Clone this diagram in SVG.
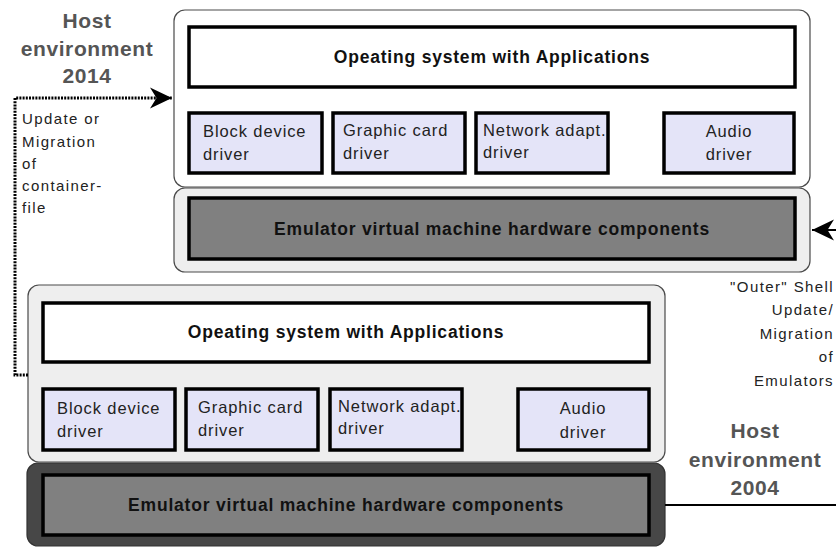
<svg xmlns="http://www.w3.org/2000/svg" width="836" height="547" viewBox="0 0 836 547">
  <style>
    .shell-app { fill: #ffffff; stroke: #4a4a4a; stroke-width: 1.2; }
    .shell-app-old { fill: #eeeeee; stroke: #4a4a4a; stroke-width: 1.2; }
    .shell-emu { fill: #eeeeee; stroke: #4a4a4a; stroke-width: 1.2; }
    .shell-emu-old { fill: #474747; stroke: #333333; stroke-width: 1.2; }
    .os { fill: #ffffff; stroke: #000000; stroke-width: 3.5; }
    .drv { fill: #e4e4f8; stroke: #000000; stroke-width: 3.5; }
    .hw { fill: #808080; stroke: #000000; stroke-width: 3.5; }
    .title { font-family: "Liberation Sans", Arial, sans-serif; font-weight: bold; font-size: 17.5px; letter-spacing: 0.8px; fill: #111111; text-anchor: middle; }
    .lbl { font-family: "Liberation Sans", Arial, sans-serif; font-size: 16.5px; letter-spacing: 0.9px; fill: #222222; }
    .mid { text-anchor: middle; }
    .host { font-family: "Liberation Sans", Arial, sans-serif; font-weight: bold; font-size: 21px; letter-spacing: 0.6px; fill: #555555; text-anchor: middle; }
    .note { font-family: "Liberation Sans", Arial, sans-serif; font-size: 15px; letter-spacing: 1.4px; fill: #222222; }
    .link { fill: none; stroke: #000000; }
  </style>
  <defs>
    <marker id="barb" markerUnits="userSpaceOnUse" markerWidth="24" markerHeight="24" refX="22" refY="11" orient="auto" overflow="visible">
      <path d="M22,11 L0,0.5 L6.5,11 L0,21.5 Z" fill="#000000"/>
    </marker>
  </defs>

  <!-- host environment 2014: guest system -->
  <g id="guest-2014">
    <rect class="shell-app" x="174" y="10" width="636" height="177" rx="11"/>
    <rect class="os" x="189" y="27" width="606" height="60"/>
    <text class="title" x="492" y="63">Opeating system with Applications</text>
    <rect class="drv" x="189" y="113" width="133" height="60"/>
    <text class="lbl" x="203" y="137">Block device</text>
    <text class="lbl" x="203" y="160">driver</text>
    <rect class="drv" x="333" y="113" width="132" height="60"/>
    <text class="lbl" x="343" y="136">Graphic card</text>
    <text class="lbl" x="343" y="159">driver</text>
    <rect class="drv" x="476" y="113" width="132" height="60"/>
    <text class="lbl" x="483" y="136">Network adapt.</text>
    <text class="lbl" x="483" y="158">driver</text>
    <rect class="drv" x="664" y="113" width="130" height="60"/>
    <text class="lbl mid" x="729" y="137">Audio</text>
    <text class="lbl mid" x="729" y="160">driver</text>
  </g>

  <!-- host environment 2014: emulator -->
  <g id="emulator-2014">
    <rect class="shell-emu" x="174" y="188" width="636" height="84" rx="11"/>
    <rect class="hw" x="189" y="198" width="606" height="61"/>
    <text class="title" x="492" y="235">Emulator virtual machine hardware components</text>
  </g>

  <!-- host environment 2004: guest system -->
  <g id="guest-2004">
    <rect class="shell-app-old" x="28" y="285" width="637" height="177" rx="11"/>
    <rect class="os" x="43" y="303" width="606" height="59"/>
    <text class="title" x="346" y="338">Opeating system with Applications</text>
    <rect class="drv" x="43" y="389" width="132" height="61"/>
    <text class="lbl" x="57" y="414">Block device</text>
    <text class="lbl" x="57" y="437">driver</text>
    <rect class="drv" x="186" y="389" width="132" height="61"/>
    <text class="lbl" x="198" y="413">Graphic card</text>
    <text class="lbl" x="198" y="436">driver</text>
    <rect class="drv" x="330" y="389" width="132" height="61"/>
    <text class="lbl" x="338" y="412">Network adapt.</text>
    <text class="lbl" x="338" y="434">driver</text>
    <rect class="drv" x="518" y="389" width="131" height="61"/>
    <text class="lbl mid" x="583" y="414">Audio</text>
    <text class="lbl mid" x="583" y="438">driver</text>
  </g>

  <!-- host environment 2004: emulator -->
  <g id="emulator-2004">
    <rect class="shell-emu-old" x="27" y="463" width="638" height="83" rx="11"/>
    <rect class="hw" x="43" y="475" width="606" height="60"/>
    <text class="title" x="346" y="511">Emulator virtual machine hardware components</text>
  </g>

  <!-- labels -->
  <g id="host-2014">
    <text class="host" x="87" y="28">Host</text>
    <text class="host" x="87" y="56">environment</text>
    <text class="host" x="87" y="83">2014</text>
  </g>
  <g id="host-2004">
    <text class="host" x="755" y="438">Host</text>
    <text class="host" x="755" y="467">environment</text>
    <text class="host" x="755" y="495">2004</text>
  </g>
  <g id="note-container">
    <text class="note" x="22" y="124">Update or</text>
    <text class="note" x="22" y="147">Migration</text>
    <text class="note" x="22" y="169">of</text>
    <text class="note" x="22" y="191">container-</text>
    <text class="note" x="22" y="213">file</text>
  </g>
  <g id="note-emulators" text-anchor="end">
    <text class="note" x="834" y="292">"Outer" Shell</text>
    <text class="note" x="834" y="315">Update/</text>
    <text class="note" x="834" y="339">Migration</text>
    <text class="note" x="834" y="362">of</text>
    <text class="note" x="834" y="386">Emulators</text>
  </g>

  <!-- connectors -->
  <g id="connectors">
    <path class="link" d="M28,375 H15 V98 H172" stroke-width="3" stroke-dasharray="2 1.2" marker-end="url(#barb)"/>
    <path class="link" d="M836,230 H812" stroke-width="2" marker-end="url(#barb)"/>
    <path class="link" d="M665,505 H836" stroke-width="2"/>
  </g>
</svg>
